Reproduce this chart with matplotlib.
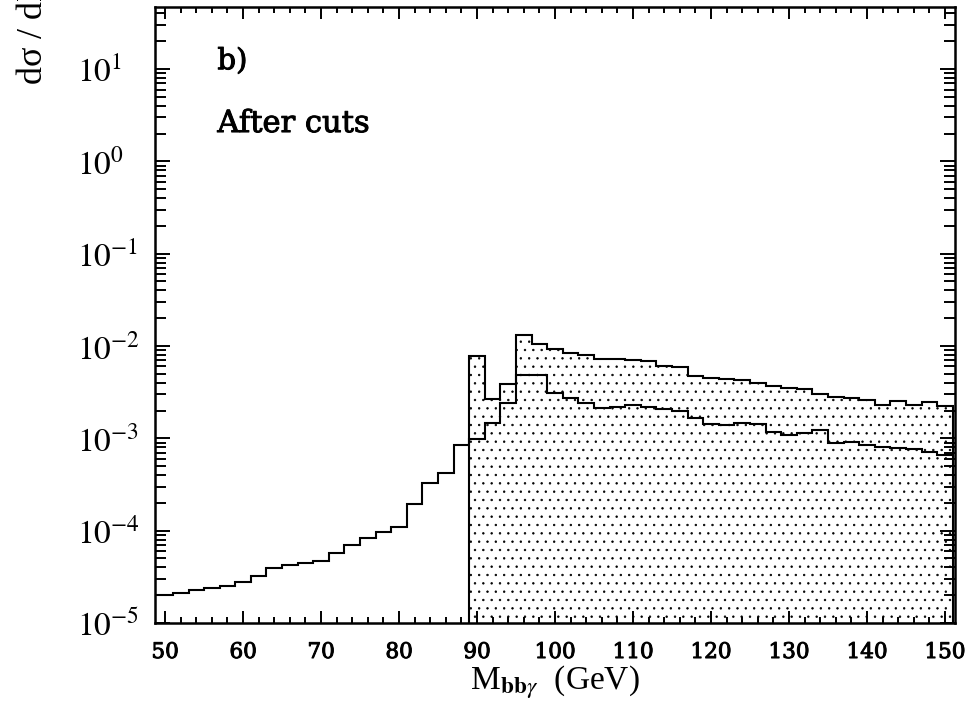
import matplotlib
matplotlib.use("Agg")
import matplotlib.pyplot as plt
import matplotlib.patheffects as pe
import numpy as np
from matplotlib.ticker import FixedLocator, LogLocator, NullFormatter, MultipleLocator

# 2 GeV bins from 49 to 151 GeV
edges = np.arange(49, 152, 2)

# background, every bin (pb/GeV)
background = [
    2.0e-5, 2.1e-5, 2.25e-5, 2.4e-5, 2.5e-5, 2.8e-5, 3.25e-5, 3.95e-5, 4.2e-5, 4.5e-5,
    4.65e-5, 5.75e-5, 7.0e-5, 8.3e-5, 9.6e-5, 1.09e-4, 1.93e-4, 3.27e-4, 4.2e-4, 8.4e-4,
    9.8e-4, 1.48e-3, 2.39e-3, 4.8e-3, 4.8e-3, 3.12e-3, 2.75e-3, 2.39e-3, 2.15e-3, 2.2e-3,
    2.27e-3, 2.2e-3, 2.06e-3, 2.0e-3, 1.68e-3, 1.44e-3, 1.39e-3, 1.45e-3, 1.43e-3, 1.17e-3,
    1.10e-3, 1.13e-3, 1.23e-3, 9.0e-4, 9.1e-4, 8.45e-4, 8.1e-4, 7.9e-4, 7.6e-4, 7.1e-4,
    6.6e-4,
]

# signal + background, bins from 89 GeV on
sig_start = 89
signal_total = [
    7.76e-3, 2.7e-3, 3.9e-3, 1.31e-2, 1.05e-2, 9.33e-3, 8.45e-3, 7.9e-3, 7.27e-3, 7.15e-3,
    6.97e-3, 6.8e-3, 6.05e-3, 5.9e-3, 4.71e-3, 4.53e-3, 4.35e-3, 4.27e-3, 4.0e-3, 3.67e-3,
    3.53e-3, 3.44e-3, 2.99e-3, 2.80e-3, 2.75e-3, 2.58e-3, 2.27e-3, 2.53e-3, 2.29e-3, 2.47e-3,
    2.26e-3,
]

xticks = [50, 60, 70, 80, 90, 100, 110, 120, 130, 140, 150]
yticks = [1e-5, 1e-4, 1e-3, 1e-2, 1e-1, 1e0, 1e1]
ytick_labels = [r"$10^{-5}$", r"$10^{-4}$", r"$10^{-3}$", r"$10^{-2}$",
                r"$10^{-1}$", r"$10^{0}$", r"$10^{1}$"]

ymin, ymax = 1e-5, 47

plt.rcParams["mathtext.fontset"] = "stix"
plt.rcParams["hatch.color"] = "black"
plt.rcParams["hatch.linewidth"] = 0.5

# slightly heavier than regular weight
medium = [pe.withStroke(linewidth=0.7, foreground="black")]

fig = plt.figure(figsize=(9.71, 7.14), dpi=100)
ax = fig.add_axes([0.1596, 0.1275, 0.824, 0.8627])

sig_edges = edges[edges >= sig_start]
ax.stairs(signal_total, sig_edges, baseline=ymin, fill=True, facecolor="white",
          edgecolor="black", linewidth=0, hatch="..")
ax.stairs(signal_total, sig_edges, baseline=ymin, color="black", linewidth=1.5)
ax.stairs(background, edges, baseline=None, color="black", linewidth=1.5)

ax.set_yscale("log")
ax.set_xlim(48.7, 151.3)
ax.set_ylim(ymin, ymax)

ax.xaxis.set_major_locator(FixedLocator(xticks))
ax.xaxis.set_minor_locator(MultipleLocator(2))
ax.set_xticklabels([str(v) for v in xticks], family="DejaVu Serif", fontsize=15.5,
                   path_effects=medium)

ax.yaxis.set_major_locator(FixedLocator(yticks))
ax.yaxis.set_minor_locator(LogLocator(base=10, subs=np.arange(2, 10), numticks=50))
ax.yaxis.set_minor_formatter(NullFormatter())
ax.set_yticklabels(ytick_labels, fontsize=24)
for lab in ax.get_yticklabels():
    lab.set_horizontalalignment("left")

ax.tick_params(which="both", direction="in", top=True, right=True, width=1.4)
ax.tick_params(axis="x", which="major", length=8.6, pad=13)
ax.tick_params(axis="x", which="minor", length=4.3)
ax.tick_params(axis="y", which="major", length=10.8, pad=56)
ax.tick_params(axis="y", which="minor", length=7.9)
for sp in ax.spines.values():
    sp.set_linewidth(1.8)

ax.set_xlabel(r"M$_{\mathbf{bb}\gamma}$  (GeV)", fontsize=24,
              family="Liberation Serif", labelpad=0)
fig.text(0.035, 0.881, "dσ / dM$_{bb\\gamma}$ (pb/GeV)", rotation=90,
         ha="center", va="bottom", fontsize=26, family="Liberation Serif")

ax.text(0.078, 0.899, "b)", transform=ax.transAxes, family="DejaVu Serif",
        fontsize=21, va="baseline", path_effects=medium)
ax.text(0.078, 0.797, "After cuts", transform=ax.transAxes, family="DejaVu Serif",
        fontsize=22, va="baseline", path_effects=medium)

fig.savefig("out.png", dpi=100)
